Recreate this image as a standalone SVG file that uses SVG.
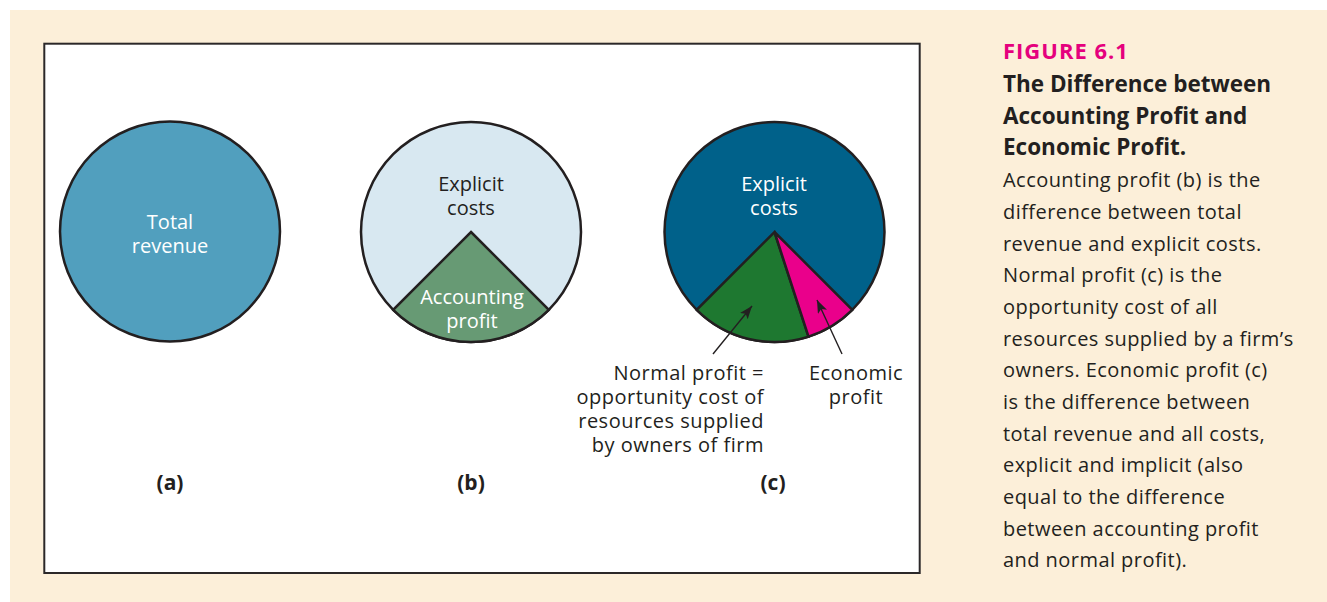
<svg xmlns="http://www.w3.org/2000/svg" width="1327" height="602" viewBox="0 0 1327 602">
  <style>
    .lbl { font-family: "Open Sans", "Liberation Sans", sans-serif; font-size: 20px; text-anchor: middle; }
    .ann { font-family: "Open Sans", "Liberation Sans", sans-serif; font-size: 20px; fill: #231f20; letter-spacing: 0.5px; }
    .tag { font-family: "Open Sans", "Liberation Sans", sans-serif; font-size: 21px; font-weight: bold; fill: #231f20; text-anchor: middle; }
    .light { fill: #ffffff; }
    .dark { fill: #231f20; }
    .edge { stroke: #231f20; stroke-width: 2.5; stroke-linejoin: miter; }
    .ptr { stroke: #231f20; stroke-width: 1.4; fill: none; }
    .cap-title { font-family: "Open Sans", "Liberation Sans", sans-serif; font-size: 22px; font-weight: bold; fill: #e5007d; letter-spacing: 1px; }
    .cap-head { font-family: "Open Sans", "Liberation Sans", sans-serif; font-size: 22.5px; font-weight: bold; fill: #231f20; }
    .cap-body { font-family: "Open Sans", "Liberation Sans", sans-serif; font-size: 20px; fill: #231f20; letter-spacing: 0.45px; }
  </style>
  <defs>
    <marker id="arrow" markerUnits="userSpaceOnUse" markerWidth="14" markerHeight="12" refX="13" refY="5" orient="auto">
      <path d="M0,0 L13,5 L0,10 L3,5 Z" fill="#231f20"/>
    </marker>
  </defs>

  <!-- page background and framed figure area -->
  <rect x="10" y="10" width="1317" height="592" fill="#fcefd9"/>
  <rect x="44.3" y="43.7" width="875.4" height="529.3" fill="#ffffff" stroke="#2b2829" stroke-width="2"/>

  <!-- (a) total revenue -->
  <g id="pie-a">
    <circle cx="170" cy="231.5" r="110" fill="#519fbe" class="edge"/>
    <text class="lbl light" x="170" y="229">Total</text>
    <text class="lbl light" x="170" y="253">revenue</text>
  </g>

  <!-- (b) explicit costs and accounting profit -->
  <g id="pie-b">
    <circle cx="471" cy="232" r="110" fill="#d8e8f1" class="edge"/>
    <path d="M471,232 L548.8,309.8 A110,110 0 0 1 393.2,309.8 Z" fill="#679a74" class="edge"/>
    <text class="lbl dark" x="471" y="191">Explicit</text>
    <text class="lbl dark" x="471" y="215">costs</text>
    <text class="lbl light" x="472" y="304">Accounting</text>
    <text class="lbl light" x="472" y="328">profit</text>
  </g>

  <!-- (c) explicit costs, normal profit and economic profit -->
  <g id="pie-c">
    <circle cx="774.5" cy="232" r="110" fill="#00618a" class="edge"/>
    <path d="M774.5,232 L808.5,336.6 A110,110 0 0 1 696.7,309.8 Z" fill="#1e7830" class="edge"/>
    <path d="M774.5,232 L852.3,309.8 A110,110 0 0 1 808.5,336.6 Z" fill="#ea008b" class="edge"/>
    <text class="lbl light" x="774" y="191">Explicit</text>
    <text class="lbl light" x="774" y="215">costs</text>
  </g>

  <!-- pointer lines -->
  <g id="connectors">
    <line class="ptr" x1="713" y1="354" x2="752" y2="306" marker-end="url(#arrow)"/>
    <line class="ptr" x1="842" y1="354" x2="817" y2="300" marker-end="url(#arrow)"/>
  </g>

  <g id="label-normal-profit">
    <text class="ann" x="764" y="380" text-anchor="end">Normal profit =</text>
    <text class="ann" x="764" y="404" text-anchor="end">opportunity cost of</text>
    <text class="ann" x="764" y="428" text-anchor="end">resources supplied</text>
    <text class="ann" x="764" y="452" text-anchor="end">by owners of firm</text>
  </g>

  <g id="label-economic-profit">
    <text class="ann" x="856" y="380" text-anchor="middle">Economic</text>
    <text class="ann" x="856" y="404" text-anchor="middle">profit</text>
  </g>

  <g id="panel-tags">
    <text class="tag" x="170" y="490">(a)</text>
    <text class="tag" x="471" y="490">(b)</text>
    <text class="tag" x="773" y="490">(c)</text>
  </g>

  <!-- caption -->
  <g id="caption">
    <text class="cap-title" x="1003" y="59">FIGURE 6.1</text>
    <text class="cap-head" x="1003" y="92">The Difference between</text>
    <text class="cap-head" x="1003" y="123.5">Accounting Profit and</text>
    <text class="cap-head" x="1003" y="155">Economic Profit.</text>
    <text class="cap-body" x="1003" y="187">Accounting profit (b) is the</text>
    <text class="cap-body" x="1003" y="218.5">difference between total</text>
    <text class="cap-body" x="1003" y="250.5">revenue and explicit costs.</text>
    <text class="cap-body" x="1003" y="282">Normal profit (c) is the</text>
    <text class="cap-body" x="1003" y="314">opportunity cost of all</text>
    <text class="cap-body" x="1003" y="345.5">resources supplied by a firm’s</text>
    <text class="cap-body" x="1003" y="377">owners. Economic profit (c)</text>
    <text class="cap-body" x="1003" y="409">is the difference between</text>
    <text class="cap-body" x="1003" y="440.5">total revenue and all costs,</text>
    <text class="cap-body" x="1003" y="472">explicit and implicit (also</text>
    <text class="cap-body" x="1003" y="504">equal to the difference</text>
    <text class="cap-body" x="1003" y="535.5">between accounting profit</text>
    <text class="cap-body" x="1003" y="567">and normal profit).</text>
  </g>
</svg>
